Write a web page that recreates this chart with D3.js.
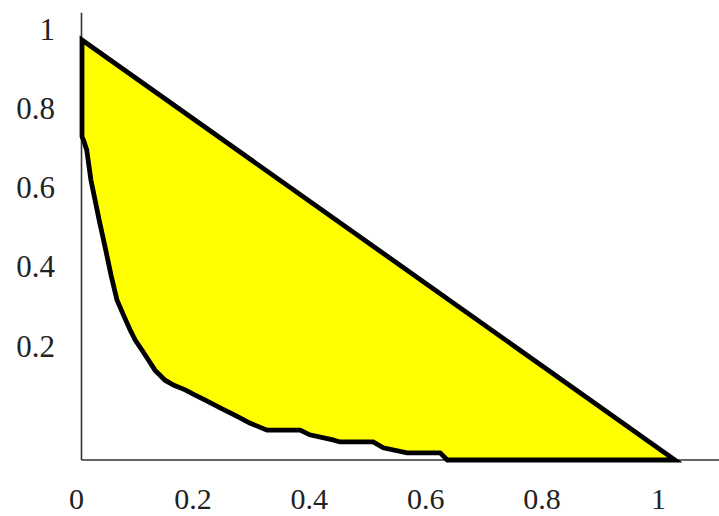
<!DOCTYPE html>
<html>
<head>
<meta charset="utf-8">
<script src="https://cdn.jsdelivr.net/npm/d3@7"></script>
<style>
  body { margin: 0; background: #fff; }
  svg { display: block; }
</style>
</head>
<body>
<div id="container"></div>
<script>
// upper boundary: straight line from (0,1) to (1,0)
var upperX = [0, 1]
var upperY = [1, 0]

// lower boundary (stepped curve)
var lowerX = [1, 0.616, 0.604, 0.548, 0.508, 0.491, 0.435, 0.423, 0.384, 0.368, 0.312, 0.283, 0.26, 0.233, 0.207, 0.19, 0.174, 0.155, 0.140, 0.123, 0.112, 0.101, 0.09, 0.081, 0.07, 0.059, 0.049, 0.040, 0.029, 0.022, 0.015, 0.008, 0.003, 0]
var lowerY = [0, 0, 0.017, 0.017, 0.029, 0.043, 0.043, 0.048, 0.060, 0.071, 0.071, 0.088, 0.105, 0.124, 0.143, 0.155, 0.167, 0.178, 0.190, 0.214, 0.238, 0.262, 0.285, 0.310, 0.345, 0.381, 0.44, 0.500, 0.571, 0.619, 0.667, 0.738, 0.76, 0.77]

var xTicks = [0, 0.2, 0.4, 0.6, 0.8, 1]
var yTicks = [0.2, 0.4, 0.6, 0.8, 1]

var width = 719
var height = 516

var svg = d3.select("#container").append("svg")
  .attr("width", width)
  .attr("height", height)

// data scales
var x = d3.scaleLinear().domain([0, 1]).range([82, 675])
var y = d3.scaleLinear().domain([0, 1]).range([460, 40])

// tick labels in the original sit a bit off the data grid
var xLab = d3.scaleLinear().domain([0, 1]).range([76, 658])
var yLab = d3.scaleLinear().domain([0, 1]).range([425, 29])

// build the region outline: top line then back along the lower curve
var pts = []
for (var i = 0; i < upperX.length; i++) pts.push([upperX[i], upperY[i]])
for (var j = 1; j < lowerX.length; j++) pts.push([lowerX[j], lowerY[j]])

var line = d3.line().x(function (d) { return x(d[0]) }).y(function (d) { return y(d[1]) })

// axes lines
svg.append("line")
  .attr("x1", x(0) - 0.5).attr("x2", x(0) - 0.5)
  .attr("y1", y(1.065)).attr("y2", y(0))
  .attr("stroke", "#333").attr("stroke-width", 1.6)
svg.append("line")
  .attr("x1", x(0) - 0.5).attr("x2", x(1.08))
  .attr("y1", y(0)).attr("y2", y(0))
  .attr("stroke", "#333").attr("stroke-width", 1.6)

svg.append("path")
  .attr("d", line(pts) + "Z")
  .attr("fill", "#ffff00")
  .attr("stroke", "#000")
  .attr("stroke-width", 4.8)
  .attr("stroke-linejoin", "miter")

var fmt = function (d) { return d3.format("")(d) }

svg.append("g")
  .attr("transform", "translate(0,499)")
  .call(d3.axisBottom(xLab).tickValues(xTicks).tickSize(0).tickPadding(0).tickFormat(fmt))
  .call(function (g) { g.select(".domain").remove() })
  .selectAll("text")
  .attr("dy", "0.33em")
  .attr("font-family", "'Liberation Serif', 'DejaVu Serif', serif")
  .attr("font-size", 30)
  .attr("fill", "#222")

svg.append("g")
  .attr("transform", "translate(55,0)")
  .call(d3.axisLeft(yLab).tickValues(yTicks).tickSize(0).tickPadding(0).tickFormat(fmt))
  .call(function (g) { g.select(".domain").remove() })
  .selectAll("text")
  .attr("dy", "0.33em")
  .attr("font-family", "'Liberation Serif', 'DejaVu Serif', serif")
  .attr("font-size", 31)
  .attr("fill", "#222")
</script>
</body>
</html>
